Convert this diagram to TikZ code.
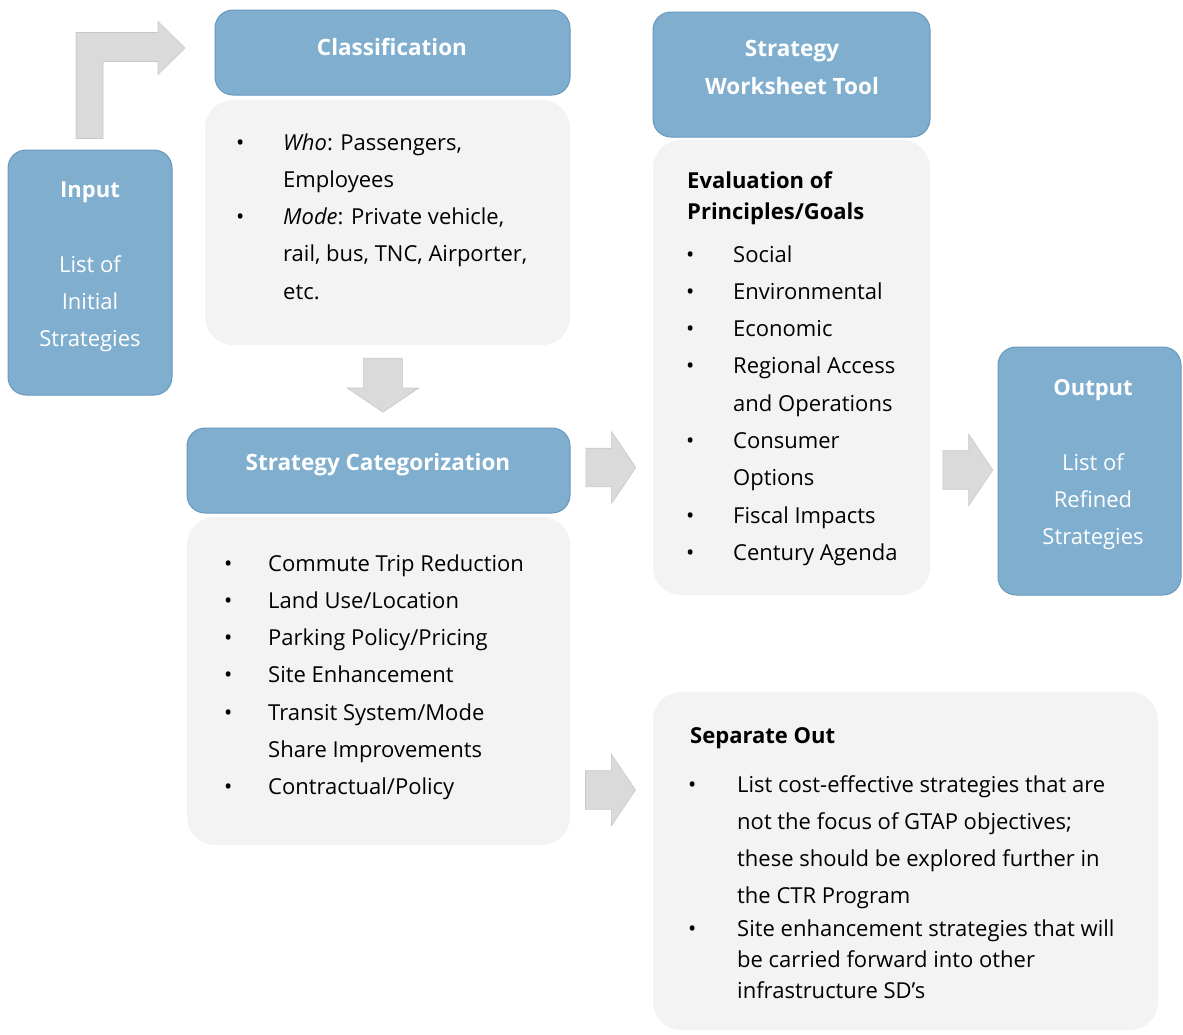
\documentclass[tikz,border=0pt]{standalone}
\usepackage{fontspec}
\setmainfont{Open Sans}
\usetikzlibrary{shapes.arrows,calc}

\definecolor{boxblue}{RGB}{127,174,206}
\definecolor{boxedge}{RGB}{104,152,188}
\definecolor{bodygray}{RGB}{243,243,243}
\definecolor{arrowgray}{RGB}{218,218,218}
\definecolor{arrowedge}{RGB}{200,200,200}

\tikzset{
  bluebox/.style={draw=boxedge, fill=boxblue, line width=1pt, rounded corners=18pt},
  graybox/.style={fill=bodygray, rounded corners=28pt},
  hdrtext/.style={text=white, font=\fontsize{22.5}{38}\selectfont\bfseries, align=center},
  listtext/.style={inner sep=0pt, anchor=base west, align=left},
  blockarrow/.style={single arrow, fill=arrowgray, draw=arrowedge, line width=0.6pt,
    inner xsep=0pt, inner ysep=19pt, single arrow head extend=16.5pt,
    single arrow tip angle=112, single arrow head indent=0pt, minimum height=50pt,
    anchor=tail}
}

\begin{document}
\begin{tikzpicture}[x=1pt, y=-1pt, font=\fontsize{22}{37.3}\selectfont]
\useasboundingbox (0,0) rectangle (1183,1034);

\node (input) [bluebox, minimum width=164, minimum height=245] at (90,272.5) {};
\node (inputtxt) [text=white, align=center] at (90,267)
  {\textbf{Input}\\[37.3pt]List of\\Initial\\Strategies};

\node (clshdr) [bluebox, minimum width=355, minimum height=85] at (392.5,52.5) {};
\node [hdrtext] at (392,47) {Classification};
\node (clsbody) [graybox, minimum width=365, minimum height=245] at (387.5,222.5) {};
\node (clslist) [listtext] at (236,150) {\begin{tabular}[t]{@{}p{47pt}@{}l@{}}
  \textbullet & \textit{Who}: Passengers,\\
   & Employees\\
  \textbullet & \textit{Mode}: Private vehicle,\\
   & rail, bus, TNC, Airporter,\\
   & etc.
\end{tabular}};

\node (cathdr) [bluebox, minimum width=383, minimum height=85] at (378.5,470.5) {};
\node [hdrtext] at (378,465) {Strategy Categorization};
\node (catbody) [graybox, minimum width=383, minimum height=328] at (378.5,681) {};
\node (catlist) [listtext] at (224,571) {\begin{tabular}[t]{@{}p{44pt}@{}l@{}}
  \textbullet & Commute Trip Reduction\\
  \textbullet & Land Use/Location\\
  \textbullet & Parking Policy/Pricing\\
  \textbullet & Site Enhancement\\
  \textbullet & Transit System/Mode\\
   & Share Improvements\\
  \textbullet & Contractual/Policy
\end{tabular}};

\node (wshdr) [bluebox, minimum width=277, minimum height=125] at (791.5,74.5) {};
\node [hdrtext] at (792,67) {Strategy\\Worksheet Tool};
\node (wsbody) [graybox, minimum width=277, minimum height=455] at (791.5,367.5) {};
\node (wstitle) [listtext, font=\fontsize{22}{31}\selectfont\bfseries] at (687,219)
  {Evaluation of\\Principles/Goals};
\node (wslist) [listtext] at (686,262) {\begin{tabular}[t]{@{}p{47pt}@{}l@{}}
  \textbullet & Social\\
  \textbullet & Environmental\\
  \textbullet & Economic\\
  \textbullet & Regional Access\\
   & and Operations\\
  \textbullet & Consumer\\
   & Options\\
  \textbullet & Fiscal Impacts\\
  \textbullet & Century Agenda
\end{tabular}};

\node (output) [bluebox, minimum width=183, minimum height=248] at (1089.5,471) {};
\node (outputtxt) [text=white, align=center] at (1093,465)
  {\textbf{Output}\\[37.3pt]List of\\Refined\\Strategies};

\node (sepbody) [graybox, minimum width=505, minimum height=338] at (905.5,861) {};
\node (septitle) [listtext, font=\fontsize{22}{31}\selectfont\bfseries] at (690,743) {Separate Out};
\node (seplist) [listtext] at (688,792) {\begin{tabular}[t]{@{}p{49pt}@{}l@{}}
  \textbullet & List cost-effective strategies that are\\
   & not the focus of GTAP objectives;\\
   & these should be explored further in\\
   & the CTR Program\\[-5pt]
  \textbullet & Site enhancement strategies that will\\[-6pt]
   & be carried forward into other\\[-6pt]
   & infrastructure SD's
\end{tabular}};

% arrows
\fill[arrowgray, draw=arrowedge, line width=0.6pt] ($(input.north)+(-14,-11)$) -- ++(0,-106)
  -- ++(82,0) -- ++(0,-11) -- ++(27,26.5) -- ++(-27,26.5) -- ++(0,-13) -- ++(-55,0)
  -- ++(0,77) -- cycle;
\node (down) [blockarrow, rotate=-90, minimum height=54pt]
  at ($(clsbody.south)!0.5!(cathdr.north)+(0,-28.5)$) {};
\node (right1) [blockarrow] at ($(cathdr.east)+(15,-3)$) {};
\node (right2) [blockarrow] at ($(output.west)+(-55,-1)$) {};
\node (right3) [blockarrow] at (catbody.east |- 0,790) [xshift=15pt] {};
\end{tikzpicture}
\end{document}
